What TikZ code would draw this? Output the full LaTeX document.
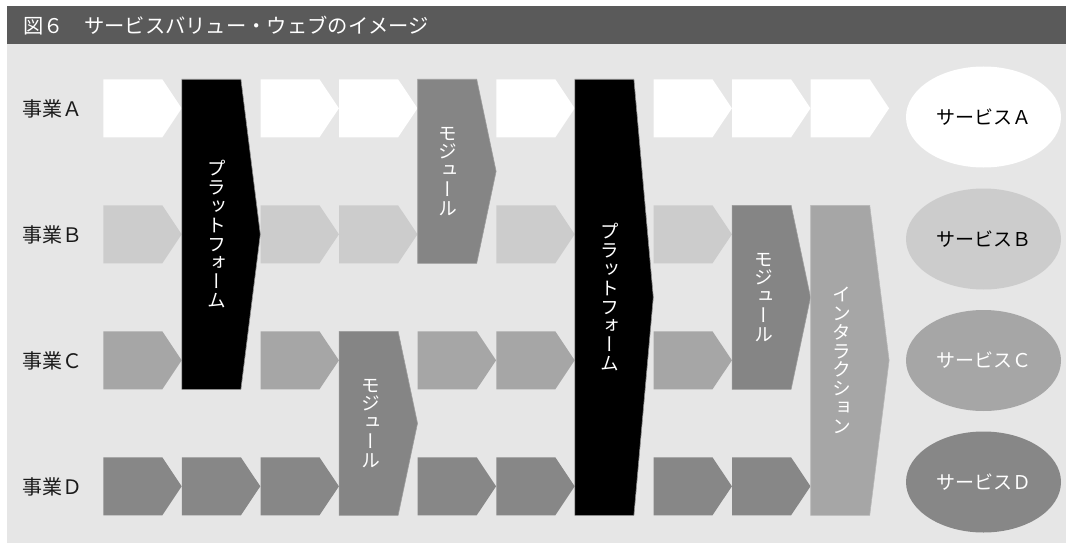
\documentclass[tikz,border=0pt]{standalone}
\usepackage{fontspec}
\setmainfont{Noto Sans CJK JP}
\newfontfamily\vjp[RawFeature=+vert]{Noto Sans CJK JP}
\usetikzlibrary{shapes.geometric}
\definecolor{bg}{HTML}{E6E6E6}
\definecolor{titlebar}{HTML}{5A5A5A}
\definecolor{cA}{HTML}{FFFFFF}
\definecolor{cB}{HTML}{CCCCCC}
\definecolor{cC}{HTML}{A6A6A6}
\definecolor{cD}{HTML}{878787}
\definecolor{cMod}{HTML}{858585}
\definecolor{cInt}{HTML}{A6A6A6}
\definecolor{labeltext}{HTML}{1A1A1A}
\definecolor{edge}{HTML}{8C8C8C}
\tikzset{
  lbl/.style={anchor=west, font=\fontsize{20}{20}\selectfont, text=labeltext, inner sep=0pt},
  vlbl/.style={align=center, font=\vjp\fontsize{18.8}{18.8}\selectfont, text=white, inner sep=0pt},
  svc/.style={ellipse, minimum width=155pt, minimum height=101pt, inner sep=0pt, font=\fontsize{19}{19}\selectfont},
  platform/.style={fill=black, draw=edge, line width=0.6pt},
  module/.style={fill=cMod, draw=cMod!80!white, line width=0.6pt},
  interaction/.style={fill=cInt, draw=cInt!80!white, line width=0.6pt},
}
% name, column, first row, last row, style
\newcommand\chev[5]{%
  \pgfmathsetmacro\xa{103.3+78.6*#2}%
  \pgfmathsetmacro\ya{79.3+126*#3}%
  \pgfmathsetmacro\yb{79.3+126*#4+58}%
  \pgfmathsetmacro\ym{(\ya+\yb)/2}%
  \path[#5] (\xa,\ya) -- ({\xa+59},\ya) -- ({\xa+78.4},\ym) -- ({\xa+59},\yb) -- (\xa,\yb) -- cycle;
  \coordinate (#1) at ({\xa+29.5},\ym);
}
\begin{document}
\begin{tikzpicture}[x=1pt,y=-1pt]
\useasboundingbox (0,0) rectangle (1066,543);
\fill[bg] (7,44) rectangle (1066,543);
\fill[titlebar] (7,6) rectangle (1066,44);
\node[anchor=west, inner sep=0pt, text=white, font=\fontsize{20.3}{20.3}\selectfont] (title) at (23,25.5) {図６　サービスバリュー・ウェブのイメージ};

% row labels
\node[lbl] (rA) at (22,108.5) {事業Ａ};
\node[lbl] (rB) at (22,234.5) {事業Ｂ};
\node[lbl] (rC) at (22,360.5) {事業Ｃ};
\node[lbl] (rD) at (22,486.5) {事業Ｄ};

% row A chevrons
\foreach \c in {0,2,3,5,7,8,9} {\chev{a\c}{\c}{0}{0}{fill=cA}}
% row B
\foreach \c in {0,2,3,5,7} {\chev{b\c}{\c}{1}{1}{fill=cB}}
% row C
\foreach \c in {0,2,4,5,7} {\chev{c\c}{\c}{2}{2}{fill=cC}}
% row D
\foreach \c in {0,1,2,4,5,7,8} {\chev{d\c}{\c}{3}{3}{fill=cD}}

% tall blocks
\chev{p1}{1}{0}{2}{platform}
\chev{m1}{4}{0}{1}{module}
\chev{m3}{3}{2}{3}{module}
\chev{p2}{6}{0}{3}{platform}
\chev{m2}{8}{1}{2}{module}
\chev{it}{9}{1}{3}{interaction}

\node[vlbl] (tp1) at ([xshift=5pt]p1) {プ\\ラ\\ッ\\ト\\フ\\ォ\\ー\\ム};
\node[vlbl] (tp2) at ([xshift=5pt]p2) {プ\\ラ\\ッ\\ト\\フ\\ォ\\ー\\ム};
\node[vlbl] (tm1) at ([xshift=1pt]m1) {モ\\ジ\\ュ\\ー\\ル};
\node[vlbl] (tm2) at ([xshift=2pt]m2) {モ\\ジ\\ュ\\ー\\ル};
\node[vlbl] (tm3) at ([xshift=2pt]m3) {モ\\ジ\\ュ\\ー\\ル};
\node[vlbl] (tit) at ([xshift=2pt]it) {イ\\ン\\タ\\ラ\\ク\\シ\\ョ\\ン};

% services
\node[svc, fill=cA, text=black] (sA) at (983.5,117) {サービスＡ};
\node[svc, fill=cB, text=black] (sB) at (983.5,239) {サービスＢ};
\node[svc, fill=cC, text=white] (sC) at (983.5,360.5) {サービスＣ};
\node[svc, fill=cD, text=white] (sD) at (983.5,482) {サービスＤ};
\end{tikzpicture}
\end{document}
